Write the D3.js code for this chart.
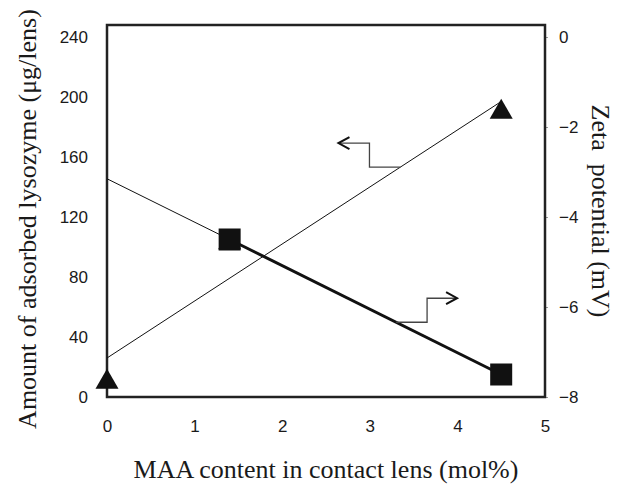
<!DOCTYPE html>
<html>
<head>
<meta charset="utf-8">
<script src="https://cdn.jsdelivr.net/npm/d3@7"></script>
<style>
  body { margin: 0; background: #fff; }
  svg { display: block; }
</style>
</head>
<body>
<div id="graph"></div>
<script>
// Data
const lysoX = [0, 1.4, 4.5]
const lysoY = [10, 103, 190]
const zetaX = [1.4, 4.5]
const zetaY = [-4.5, -7.5]
// trend lines (endpoints as drawn)
const lysoTrendX = [0, 4.5]
const lysoTrendY = [26, 197]
const zetaTrendX = [0, 1.4]
const zetaTrendY = [-3.15, -4.5]

const xTicks = [0, 1, 2, 3, 4, 5]
const leftTicks = [0, 40, 80, 120, 160, 200, 240]
const rightTicks = [0, -2, -4, -6, -8]

const total_width = 617
const total_height = 489
const margins = { top: 25, left: 107, right: 72, bottom: 92 }
const width = total_width - margins.left - margins.right
const height = total_height - margins.top - margins.bottom

const svg = d3.select('#graph').append('svg')
  .attr('width', total_width)
  .attr('height', total_height)

const g = svg.append('g')
  .attr('transform', `translate(${margins.left}, ${margins.top})`)

const x = d3.scaleLinear().domain([0, 5]).range([0, width])
// tick 240 / 0 sit 12px below the top of the frame
const y = d3.scaleLinear().domain([0, 240]).range([height, 12])
const y2 = d3.scaleLinear().domain([-8, 0]).range([height, 12])

const tickFont = '"Liberation Sans", Arial, sans-serif'
const titleFont = '"Liberation Serif", "Times New Roman", serif'

// axes (labels only, frame drawn separately)
const xAxis = g.append('g')
  .attr('transform', `translate(0, ${height})`)
  .call(d3.axisBottom(x).tickValues(xTicks).tickSize(0).tickPadding(23).tickFormat(d3.format('d')))
const yAxis = g.append('g')
  .call(d3.axisLeft(y).tickValues(leftTicks).tickSize(0).tickPadding(19))
const yAxis2 = g.append('g')
  .attr('transform', `translate(${width}, 0)`)
  .call(d3.axisRight(y2).tickValues(rightTicks).tickSize(3).tickPadding(11)
    .tickFormat(d => d3.format('d')(d).replace('-', '\u2212')))

;[xAxis, yAxis, yAxis2].forEach(a => {
  a.select('.domain').remove()
  a.selectAll('text').style('font-family', tickFont).style('font-size', '17px').attr('fill', '#1a1a1a')
  a.selectAll('line').attr('stroke', '#999')
})

// frame
g.append('rect')
  .attr('x', 0).attr('y', 0)
  .attr('width', width).attr('height', height)
  .attr('fill', 'none')
  .attr('stroke', '#222')
  .attr('stroke-width', 2.5)

const line = d3.line()

// trend lines
const lysoTrend = lysoTrendX.map((d, i) => [x(d), y(lysoTrendY[i])])
g.append('path').attr('d', line(lysoTrend))
  .attr('fill', 'none').attr('stroke', '#111').attr('stroke-width', 1)
const zetaTrend = zetaTrendX.map((d, i) => [x(d), y2(zetaTrendY[i])])
g.append('path').attr('d', line(zetaTrend))
  .attr('fill', 'none').attr('stroke', '#111').attr('stroke-width', 1)

// zeta thick line
const zetaPts = zetaX.map((d, i) => [x(d), y2(zetaY[i])])
g.append('path').attr('d', line(zetaPts))
  .attr('fill', 'none').attr('stroke', '#111').attr('stroke-width', 3)

// triangles
const tri = d3.symbol().type(d3.symbolTriangle).size(230)
g.selectAll('.tri').data(lysoX).enter().append('path')
  .attr('class', 'tri')
  .attr('d', tri)
  .attr('transform', (d, i) => `translate(${x(d)}, ${y(lysoY[i])})`)
  .attr('fill', '#111')

// squares
const sq = 22
g.selectAll('.sq').data(zetaX).enter().append('rect')
  .attr('class', 'sq')
  .attr('x', d => x(d) - sq / 2)
  .attr('y', (d, i) => y2(zetaY[i]) - sq / 2)
  .attr('width', sq).attr('height', sq)
  .attr('fill', '#111')

// arrow annotations (anchored on the trend lines)
function arrow(anchorX, anchorY, pts, dir) {
  const p = pts.map(q => [anchorX + q[0], anchorY + q[1]])
  g.append('path').attr('d', line(p))
    .attr('fill', 'none').attr('stroke', '#444').attr('stroke-width', 1.3)
  const tip = p[p.length - 1]
  g.append('path')
    .attr('d', line([[tip[0] - dir * 11, tip[1] - 6], tip, [tip[0] - dir * 11, tip[1] + 6]]))
    .attr('fill', 'none').attr('stroke', '#111').attr('stroke-width', 2)
}
// left arrow: from rising trend line, pointing to left axis
const la = 3.35
arrow(x(la), y(26 + (197 - 26) / 4.5 * la), [[0, 0], [-31, 0], [-31, -24], [-62, -24]], -1)
// right arrow: from zeta line, pointing to right axis
const ra = 3.3
arrow(x(ra), y2(-4.5 + (-3) / 3.1 * (ra - 1.4)), [[0, 0], [31, 0], [31, -24], [61, -24]], 1)

// titles
svg.append('text')
  .attr('transform', `translate(36, ${margins.top + height / 2 + 8}) rotate(-90)`)
  .attr('text-anchor', 'middle')
  .style('font-family', titleFont).style('font-size', '26px').attr('fill', '#1a1a1a')
  .text('Amount of adsorbed lysozyme (\u03bcg/lens)')

svg.append('text')
  .attr('transform', `translate(592, ${margins.top + height / 2}) rotate(90)`)
  .attr('text-anchor', 'middle')
  .style('font-family', titleFont).style('font-size', '26px').attr('fill', '#1a1a1a')
  .attr('xml:space', 'preserve')
  .text('Zeta  potential (mV)')

svg.append('text')
  .attr('x', margins.left + width / 2)
  .attr('y', 478)
  .attr('text-anchor', 'middle')
  .style('font-family', titleFont).style('font-size', '26px').attr('fill', '#1a1a1a')
  .text('MAA content in contact lens (mol%)')
</script>
</body>
</html>
